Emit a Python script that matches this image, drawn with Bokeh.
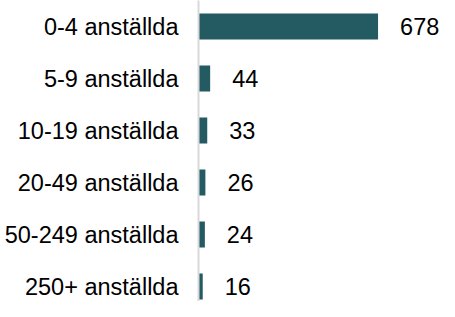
from bokeh.plotting import figure
from bokeh.models import ColumnDataSource, Range1d, FixedTicker
from bokeh.core.properties import value
from bokeh.embed import file_html
from bokeh.resources import INLINE

categories = ["0-4 anställda", "5-9 anställda", "10-19 anställda",
              "20-49 anställda", "50-249 anställda", "250+ anställda"]
counts = [678, 44, 33, 26, 24, 16]

n = len(categories)
ypos = [n - 1 - i for i in range(n)]
src = ColumnDataSource(dict(y=ypos, v=counts, lab=[str(c) for c in counts]))

p = figure(width=439, height=301, output_backend="svg", toolbar_location=None,
           x_range=Range1d(0, 910), y_range=Range1d(-0.288, 5.5),
           min_border_left=198, min_border_right=0, min_border_top=0, min_border_bottom=0)

p.hbar(y="y", right="v", left=0, height=0.5, source=src,
       fill_color="#245A62", line_color=None)
p.text(x="v", y="y", text="lab", source=src, x_offset=22,
       text_font=value("Liberation Sans"), text_font_size="23.5px",
       text_baseline="middle", text_align="left", text_color="#000000")

p.xaxis.visible = False
p.xgrid.visible = False
p.ygrid.visible = False
p.outline_line_color = None

ax = p.yaxis[0]
ax.ticker = FixedTicker(ticks=ypos)
ax.major_label_overrides = {y: c for y, c in zip(ypos, categories)}
ax.major_tick_line_color = None
ax.minor_tick_line_color = None
ax.major_tick_out = 0
ax.major_tick_in = 0
ax.major_label_standoff = 20
ax.axis_line_color = "#d9d9d9"
ax.axis_line_width = 2
ax.major_label_text_font = "Liberation Sans"
ax.major_label_text_font_size = "23.5px"
ax.major_label_text_color = "#000000"

open("out.html", "w").write(file_html(p, INLINE))
